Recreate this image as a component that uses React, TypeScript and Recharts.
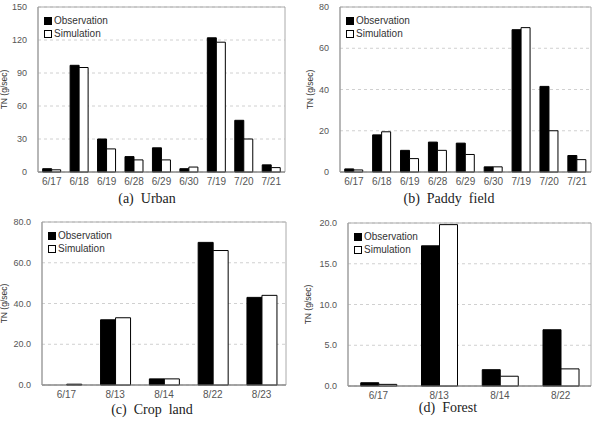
import React from 'react'
import {
  Bar,
  BarChart,
  CartesianGrid,
  Legend,
  ReferenceArea,
  XAxis,
  YAxis,
} from 'recharts'

// (a) Urban
const urbanDates = ['6/17', '6/18', '6/19', '6/28', '6/29', '6/30', '7/19', '7/20', '7/21']
const urbanObs = [3, 97, 30, 14, 22, 3, 122, 47, 6.5]
const urbanSim = [2, 95, 21, 11, 11, 4.5, 118, 30, 4]
const urbanTicks = [0, 30, 60, 90, 120, 150]

// (b) Paddy field
const paddyDates = ['6/17', '6/18', '6/19', '6/28', '6/29', '6/30', '7/19', '7/20', '7/21']
const paddyObs = [1.5, 18, 10.5, 14.5, 14, 2.5, 69, 41.5, 8]
const paddySim = [1, 19.5, 6.5, 10.5, 8.5, 2.5, 70, 20, 6]
const paddyTicks = [0, 20, 40, 60, 80]

// (c) Crop land
const cropDates = ['6/17', '8/13', '8/14', '8/22', '8/23']
const cropObs = [0, 32, 3, 70, 43]
const cropSim = [0.4, 33, 3, 66, 44]
const cropTicks = [0, 20, 40, 60, 80]

// (d) Forest
const forestDates = ['6/17', '8/13', '8/14', '8/22']
const forestObs = [0.4, 17.2, 2.0, 6.9]
const forestSim = [0.2, 19.8, 1.2, 2.1]
const forestTicks = [0, 5, 10, 15, 20]

const tickFont = { fontFamily: 'Liberation Sans, Arial, sans-serif', fill: '#555' }

const LegendBox = () => (
  <div
    style={{
      fontFamily: 'Liberation Sans, Arial, sans-serif',
      fontSize: 10,
      color: '#333',
      lineHeight: '13px',
    }}
  >
    {[
      { name: 'Observation', fill: '#000' },
      { name: 'Simulation', fill: '#fff' },
    ].map((item) => (
      <div key={item.name} style={{ display: 'flex', alignItems: 'center' }}>
        <span
          style={{
            display: 'inline-block',
            width: 6,
            height: 6,
            background: item.fill,
            border: '1px solid #000',
            marginRight: 2,
          }}
        />
        {item.name}
      </div>
    ))}
  </div>
)

interface PanelProps {
  dates: string[]
  obs: number[]
  sim: number[]
  ticks: number[]
  decimals: number
  width: number
  height: number
  left: number
  right: number
  top: number
  bottom: number
  titleX: number
  gap: string
}

function Panel(p: PanelProps) {
  const data = p.dates.map((date, i) => ({ date, obs: p.obs[i], sim: p.sim[i] }))
  const max = p.ticks[p.ticks.length - 1]
  const midY = p.top + (p.bottom - p.top) / 2

  return (
    <BarChart
      width={p.width}
      height={p.height}
      data={data}
      margin={{ top: p.top, right: p.width - p.right, left: 0, bottom: 0 }}
      barCategoryGap={p.gap}
      barGap={0}
    >
      <CartesianGrid vertical={false} stroke="#d0d0d0" strokeDasharray="3 3" />
      {/* plot frame */}
      <ReferenceArea y1={0} y2={max} fill="none" stroke="#aaa" strokeWidth={1} />
      <XAxis
        dataKey="date"
        height={p.height - p.bottom}
        tickLine={false}
        axisLine={{ stroke: '#777' }}
        tick={{ ...tickFont, fontSize: 10 }}
        tickMargin={0}
        interval={0}
      />
      <YAxis
        width={p.left}
        domain={[0, max]}
        ticks={p.ticks}
        tickLine={false}
        axisLine={{ stroke: '#999' }}
        tick={{ ...tickFont, fontSize: 9 }}
        tickMargin={5}
        tickFormatter={(v) => v.toFixed(p.decimals)}
        label={{
          content: () => (
            <text
              x={p.titleX}
              y={midY}
              transform={`rotate(-90 ${p.titleX} ${midY})`}
              textAnchor="middle"
              dominantBaseline="central"
              fontSize={8.5}
              fontFamily="Liberation Sans, Arial, sans-serif"
              fill="#333"
            >
              TN (g/sec)
            </text>
          ),
        }}
      />
      <Legend
        layout="vertical"
        align="center"
        verticalAlign="middle"
        content={<LegendBox />}
        wrapperStyle={{ left: p.left + 6, top: p.top + 7, width: 'auto', height: 'auto' }}
      />
      <Bar dataKey="obs" name="Observation" fill="#000" stroke="#000" isAnimationActive={false} />
      <Bar dataKey="sim" name="Simulation" fill="#fff" stroke="#000" isAnimationActive={false} />
    </BarChart>
  )
}

const captionStyle: React.CSSProperties = {
  position: 'absolute',
  fontFamily: 'Liberation Serif, Times New Roman, serif',
  fontSize: 14,
  color: '#222',
  whiteSpace: 'pre',
  transform: 'translateX(-50%)',
  lineHeight: '14px',
}

export default function App() {
  return (
    <div
      style={{
        position: 'absolute',
        left: 0,
        top: 0,
        width: 592,
        height: 422,
        background: '#fff',
        overflow: 'hidden',
      }}
    >
      <div style={{ position: 'absolute', left: 0, top: 0 }}>
        <Panel
          dates={urbanDates}
          obs={urbanObs}
          sim={urbanSim}
          ticks={urbanTicks}
          decimals={0}
          width={296}
          height={211}
          left={38}
          right={285}
          top={7}
          bottom={172}
          titleX={4}
          gap="17%"
        />
      </div>
      <div style={{ position: 'absolute', left: 296, top: 0 }}>
        <Panel
          dates={paddyDates}
          obs={paddyObs}
          sim={paddySim}
          ticks={paddyTicks}
          decimals={0}
          width={296}
          height={211}
          left={44}
          right={295}
          top={7}
          bottom={172}
          titleX={14}
          gap="17%"
        />
      </div>
      <div style={{ position: 'absolute', left: 0, top: 211 }}>
        <Panel
          dates={cropDates}
          obs={cropObs}
          sim={cropSim}
          ticks={cropTicks}
          decimals={1}
          width={296}
          height={211}
          left={42}
          right={286}
          top={11}
          bottom={174}
          titleX={4}
          gap="20%"
        />
      </div>
      <div style={{ position: 'absolute', left: 296, top: 211 }}>
        <Panel
          dates={forestDates}
          obs={forestObs}
          sim={forestSim}
          ticks={forestTicks}
          decimals={1}
          width={296}
          height={211}
          left={52}
          right={295}
          top={12}
          bottom={175}
          titleX={12}
          gap="21%"
        />
      </div>
      <div style={{ ...captionStyle, left: 147, top: 192 }}>{'(a)  Urban'}</div>
      <div style={{ ...captionStyle, left: 449, top: 192 }}>{'(b)  Paddy  field'}</div>
      <div style={{ ...captionStyle, left: 152, top: 403 }}>{'(c)  Crop  land'}</div>
      <div style={{ ...captionStyle, left: 448, top: 401 }}>{'(d)  Forest'}</div>
    </div>
  )
}
